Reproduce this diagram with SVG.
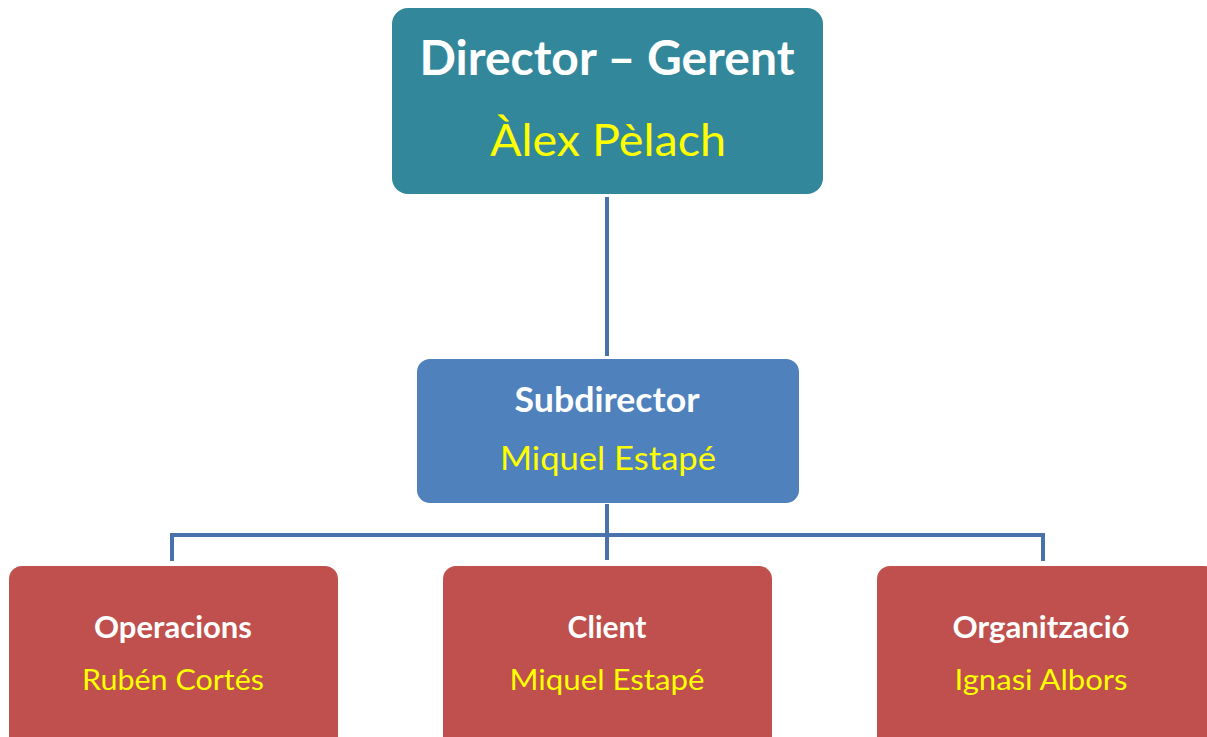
<svg xmlns="http://www.w3.org/2000/svg" width="1207" height="737" viewBox="0 0 1207 737">
<style>
.t{font-family:Lato,"Open Sans","Liberation Sans",sans-serif;text-anchor:middle}
.h{font-weight:bold;fill:#FFFFFF}
.n{fill:#FFFF00}
.c{fill:none;stroke:#4A72AA;stroke-width:4}
</style>
<rect width="1207" height="737" fill="#FFFFFF"/>
<g id="connectors">
<line class="c" x1="607" y1="197" x2="607" y2="356"/>
<line class="c" x1="607" y1="504" x2="607" y2="560"/>
<polyline class="c" points="172,561 172,535 1043,535 1043,561"/>
</g>
<g id="director">
<rect x="392" y="8" width="431" height="186" rx="16" fill="#33879B"/>
<text class="t h" x="607" y="75" font-size="47" textLength="375" lengthAdjust="spacingAndGlyphs">Director – Gerent</text>
<text class="t n" x="608" y="156" font-size="45" textLength="236" lengthAdjust="spacingAndGlyphs">Àlex Pèlach</text>
</g>
<g id="subdirector">
<rect x="417" y="359" width="382" height="144" rx="13" fill="#4F81BD"/>
<text class="t h" x="607" y="412" font-size="35" textLength="185" lengthAdjust="spacingAndGlyphs">Subdirector</text>
<text class="t n" x="608" y="470" font-size="33" textLength="216" lengthAdjust="spacingAndGlyphs">Miquel Estapé</text>
</g>
<g id="operacions">
<rect x="9" y="566" width="329" height="185" rx="13" fill="#C0504D"/>
<text class="t h" x="173" y="638" font-size="30" textLength="158" lengthAdjust="spacingAndGlyphs">Operacions</text>
<text class="t n" x="173" y="690" font-size="29" textLength="182" lengthAdjust="spacingAndGlyphs">Rubén Cortés</text>
</g>
<g id="client">
<rect x="443" y="566" width="329" height="185" rx="13" fill="#C0504D"/>
<text class="t h" x="607" y="638" font-size="30">Client</text>
<text class="t n" x="607" y="690" font-size="29" textLength="195" lengthAdjust="spacingAndGlyphs">Miquel Estapé</text>
</g>
<g id="organitzacio">
<rect x="877" y="566" width="340" height="185" rx="13" fill="#C0504D"/>
<text class="t h" x="1041" y="638" font-size="30" textLength="177" lengthAdjust="spacingAndGlyphs">Organització</text>
<text class="t n" x="1041" y="690" font-size="29" textLength="173" lengthAdjust="spacingAndGlyphs">Ignasi Albors</text>
</g>
</svg>
